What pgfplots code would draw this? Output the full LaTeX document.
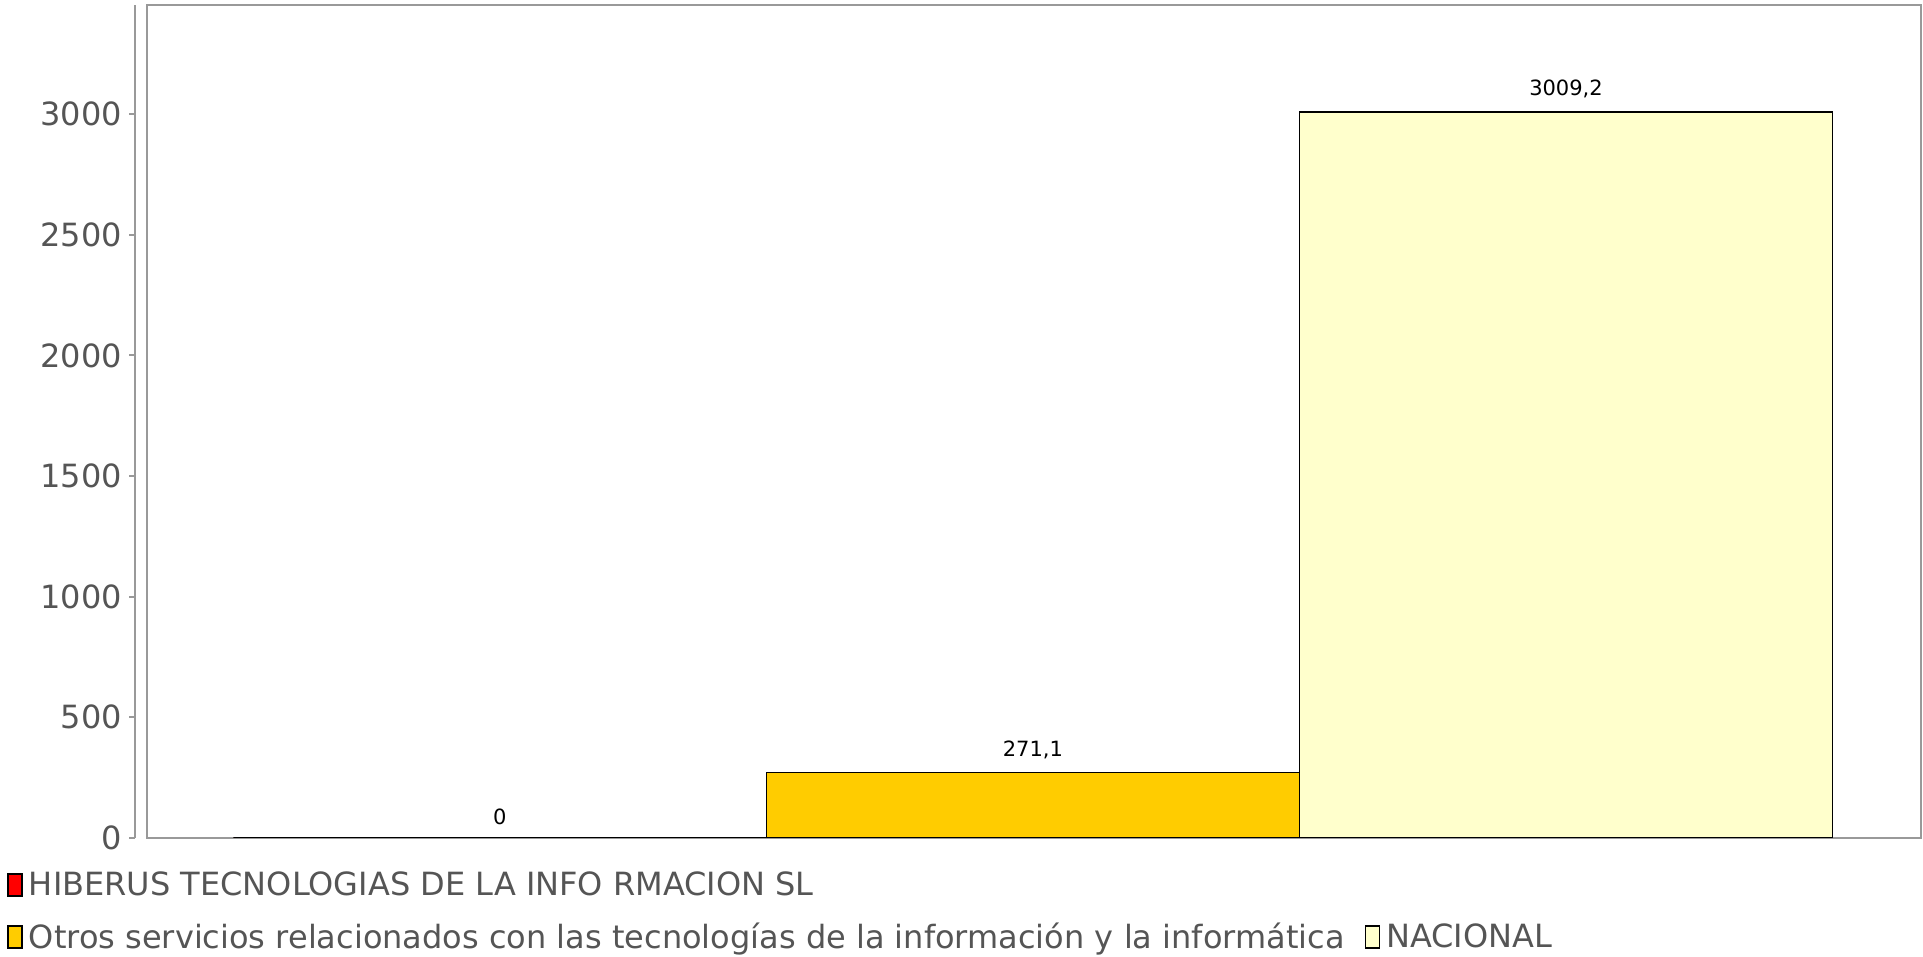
\documentclass[border=0pt]{standalone}
\usepackage{fontspec}
\setmainfont{DejaVu Sans}
\usepackage{pgfplots}
\pgfplotsset{compat=1.18}
\definecolor{hred}{HTML}{FF0000}
\definecolor{hyel}{HTML}{FFCC00}
\definecolor{hlight}{HTML}{FFFFCC}
\definecolor{frameg}{HTML}{999999}
\definecolor{textg}{HTML}{555555}
\begin{document}
\begin{tikzpicture}
\path[use as bounding box] (0,0) rectangle (961.5pt,478.5pt);
% separate y axis
\begin{axis}[
  at={(67.5pt,59.5pt)}, anchor=south west,
  scale only axis, width=887pt, height=416.5pt,
  xmin=0, xmax=1, ymin=0, ymax=3452,
  axis x line=none, axis y line=left,
  axis line style={-, frameg, line width=1pt},
  ytick={0,500,1000,1500,2000,2500,3000},
  tick align=outside, major tick length=3pt,
  tick style={frameg, line width=1pt},
  yticklabel style={font=\fontsize{16}{19}\selectfont, text=textg},
  /pgf/number format/assume math mode=true,
  /pgf/number format/1000 sep={},
]
\addplot[draw=none] coordinates {(0,0)};
\end{axis}
% main axis
\begin{axis}[
  at={(73.5pt,59.5pt)}, anchor=south west,
  scale only axis, width=887pt, height=416.5pt,
  xmin=-0.662, xmax=2.666, ymin=0, ymax=3452,
  xtick=\empty, ytick=\empty,
  axis line style={frameg, line width=1pt},
  ybar=0pt, bar shift=0pt, bar width=266.5pt,
  /pgf/number format/assume math mode=true,
  nodes near coords,
  nodes near coords style={font=\fontsize{10.5}{12}\selectfont, text=black, anchor=south, yshift=3pt,
    /pgf/number format/.cd, use comma, 1000 sep={}, fixed, precision=1, assume math mode=true},
  legend columns=2,
  legend cell align=left,
  legend style={at={(axis description cs:0,0)}, anchor=north west, xshift=-70pt, yshift=-16.5pt,
    draw=none, fill=none, inner sep=0pt,
    font=\fontsize{16}{18}\selectfont, text=textg,
    /tikz/every even column/.append style={column sep=7pt},
    /tikz/row sep=12.3pt,
    nodes={inner xsep=3pt, inner ysep=0pt}},
]
\addplot[fill=hred, draw=black, line width=0.9pt,
  legend image code/.code={\draw[fill=hred,draw=black,line width=0.8pt] (0pt,-5.5pt) rectangle (7pt,5.5pt);}]
  coordinates {(0,0)};
\addlegendentry{HIBERUS TECNOLOGIAS DE LA INFO RMACION SL}
\addlegendimage{empty legend}
\addlegendentry{}
\addplot[fill=hyel, draw=black, line width=0.9pt,
  legend image code/.code={\draw[fill=hyel,draw=black,line width=0.8pt] (0pt,-5.5pt) rectangle (7pt,5.5pt);}]
  coordinates {(1,271.1)};
\addlegendentry{Otros servicios relacionados con las tecnologías de la información y la informática}
\addplot[fill=hlight, draw=black, line width=0.9pt,
  legend image code/.code={\draw[fill=hlight,draw=black,line width=0.8pt] (0pt,-5.5pt) rectangle (7pt,5.5pt);}]
  coordinates {(2,3009.2)};
\addlegendentry{NACIONAL}
\end{axis}
\end{tikzpicture}
\end{document}
